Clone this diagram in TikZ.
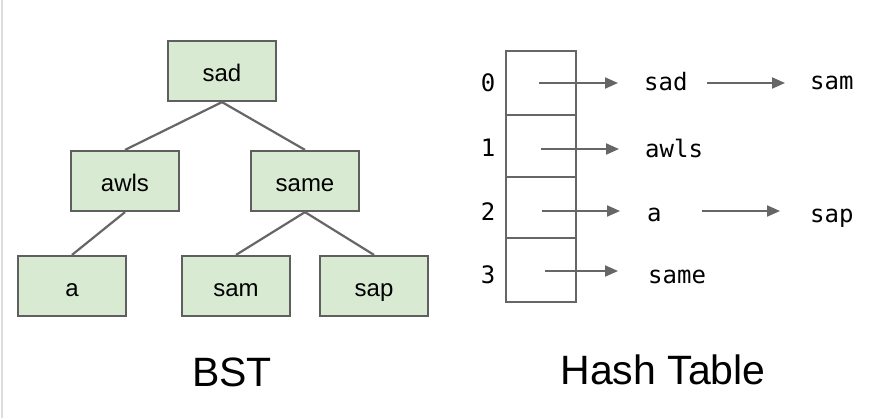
\documentclass[tikz,border=0pt]{standalone}
\usepackage{fontspec}
\setmainfont{Liberation Sans}
\newfontfamily\monofont{DejaVu Sans Mono}
\usetikzlibrary{arrows.meta}
\definecolor{boxfill}{HTML}{D9EAD3}
\definecolor{boxline}{HTML}{5F5F5F}
\definecolor{edgecol}{HTML}{666666}
\definecolor{framecol}{HTML}{DDDDDD}
\tikzset{
  bstbox/.style={draw=boxline, fill=boxfill, line width=2.2pt, minimum width=108pt, minimum height=60pt, inner sep=0pt, text height=20pt, text depth=0pt, font=\fontsize{24}{28}\selectfont},
  treeedge/.style={draw=edgecol, line width=2.2pt},
  hcell/.style={draw=edgecol, line width=2.2pt, minimum width=70pt, inner sep=0pt},
  idx/.style={anchor=base, inner sep=0pt, font=\monofont\fontsize{24}{28}\selectfont},
  htext/.style={anchor=base west, inner sep=0pt, font=\monofont\fontsize{24}{28}\selectfont},
  harrow/.style={draw=edgecol, line width=2pt, -{Triangle[length=13pt,width=11pt]}},
  biglabel/.style={inner sep=0pt, font=\fontsize{41}{48}\selectfont},
}
\begin{document}
\begin{tikzpicture}[x=1pt,y=-1pt]
\useasboundingbox (0,0) rectangle (872,418);
\fill[white] (0,0) rectangle (872,418);
\coordinate (ftop) at (2,0);
\coordinate (fbot) at (2,418);
\draw[framecol, line width=1.5pt] (ftop) -- (fbot);

% BST
\node[bstbox] (sad)  at (222,71)  {sad};
\node[bstbox] (awls) at (125,181) {awls};
\node[bstbox] (same) at (305,181) {same};
\node[bstbox] (a)    at (72,286)  {a};
\node[bstbox] (sam)  at (236,286) {sam};
\node[bstbox] (sap)  at (374,286) {sap};
\draw[treeedge] (sad.south) -- (awls.north);
\draw[treeedge] (sad.south) -- (same.north);
\draw[treeedge] (awls.south) -- (a.north);
\draw[treeedge] (same.south) -- (sam.north);
\draw[treeedge] (same.south) -- (sap.north);
\node[biglabel] (bst) at (232,372) {BST};

% Hash table cells
\node[hcell, minimum height=64pt] (c0) at (541,83)    {};
\node[hcell, minimum height=62pt] (c1) at (541,146)   {};
\node[hcell, minimum height=61pt] (c2) at (541,207.5) {};
\node[hcell, minimum height=64pt] (c3) at (541,270)   {};

\node[idx] (i0) at (488,91)  {0};
\node[idx] (i1) at (488,156) {1};
\node[idx] (i2) at (488,220) {2};
\node[idx] (i3) at (488,283) {3};

\node[htext] (t0)  at (644,90)  {sad};
\node[htext] (t0b) at (810,89)  {sam};
\node[htext] (t1)  at (645,157) {awls};
\node[htext] (t2)  at (647,221) {a};
\node[htext] (t2b) at (810,222) {sap};
\node[htext] (t3)  at (648,283) {same};

\coordinate (e0) at (618,83);
\coordinate (e1) at (619,149);
\coordinate (e2) at (620,211);
\coordinate (e3) at (618,271);
\coordinate (s0) at (539,83);
\coordinate (s1) at (541,149);
\coordinate (s2) at (542,211);
\coordinate (s3) at (545,271);
\draw[harrow] (s0) -- (e0);
\draw[harrow] (s1) -- (e1);
\draw[harrow] (s2) -- (e2);
\draw[harrow] (s3) -- (e3);

\coordinate (l0s) at (707,83);
\coordinate (l0e) at (785,83);
\coordinate (l2s) at (702,211);
\coordinate (l2e) at (780,211);
\draw[harrow] (l0s) -- (l0e);
\draw[harrow] (l2s) -- (l2e);

\node[biglabel] (ht) at (663,370) {Hash Table};
\end{tikzpicture}
\end{document}
